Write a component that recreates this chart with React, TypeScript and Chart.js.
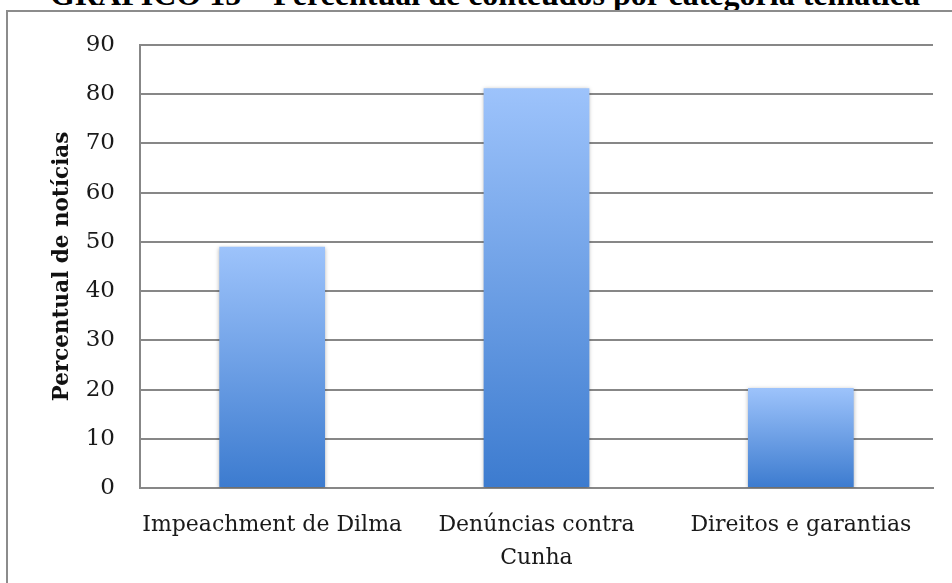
import React, { useEffect, useRef } from "react";
import { Chart, registerables } from "chart.js";

Chart.register(...registerables);

const chartTitle = "GRÁFICO 15 – Percentual de conteúdos por categoria temática";
const yAxisTitle = "Percentual de notícias";
const categories: (string | string[])[] = [
  "Impeachment de Dilma",
  ["Denúncias contra", "Cunha"],
  "Direitos e garantias",
];
const percentValues = [49, 81.2, 20.3];
const yMin = 0;
const yMax = 90;
const yStep = 10;

const GRID = "#878787";
const FONT = "'DejaVu Serif', serif";

const barShadow = {
  id: "barShadow",
  beforeDatasetsDraw(chart: any) {
    const c = chart.ctx;
    c.save();
    c.shadowColor = "rgba(0,0,0,0.3)";
    c.shadowBlur = 4;
    c.shadowOffsetX = 0;
    c.shadowOffsetY = 1;
  },
  afterDatasetsDraw(chart: any) {
    chart.ctx.restore();
  },
};

export default function App() {
  const ref = useRef<HTMLCanvasElement | null>(null);

  useEffect(() => {
    if (!ref.current) return;
    const chart = new Chart(ref.current, {
      type: "bar",
      data: {
        labels: categories as any,
        datasets: [
          {
            data: percentValues,
            backgroundColor: (ctx: any) => {
              const ch = ctx.chart;
              const { chartArea, scales } = ch;
              if (!chartArea || !scales.y || ctx.type !== "data") return "#6a9ee6";
              const v = ctx.raw as number;
              const top = scales.y.getPixelForValue(v);
              const bottom = scales.y.getPixelForValue(0);
              const g = ch.ctx.createLinearGradient(0, top, 0, bottom);
              g.addColorStop(0, "#9dc3fb");
              g.addColorStop(1, "#3c7bcf");
              return g;
            },
            borderWidth: 0,
            categoryPercentage: 1,
            barPercentage: 0.4,
          },
        ],
      },
      options: {
        responsive: false,
        animation: false,
        layout: { padding: { left: 0, top: 45, right: 19, bottom: 0 } },
        plugins: {
          legend: { display: false },
          tooltip: { enabled: false },
        },
        scales: {
          x: {
            grid: { display: false, drawTicks: false },
            border: { display: true, color: GRID, width: 2 },
            ticks: {
              color: "#1a1a1a",
              font: { family: FONT, size: 22, lineHeight: 1.5 },
              padding: 21,
              maxRotation: 0,
              autoSkip: false,
            },
            afterFit: (s: any) => {
              s.height = 95;
            },
          },
          y: {
            min: yMin,
            max: yMax,
            ticks: {
              stepSize: yStep,
              color: "#1a1a1a",
              font: { family: FONT, size: 23 },
              padding: 25,
            },
            grid: { color: GRID, lineWidth: 2, drawTicks: false },
            border: { display: true, color: GRID, width: 2 },
            title: {
              display: true,
              text: yAxisTitle,
              color: "#111",
              font: { family: FONT, size: 21.5, weight: "bold" },
              padding: { top: 50, bottom: 0 },
            },
            afterFit: (s: any) => {
              s.width = 140;
            },
          },
        },
      },
      plugins: [barShadow],
    });
    return () => chart.destroy();
  }, []);

  return (
    <div
      style={{
        position: "fixed",
        left: 0,
        top: 0,
        width: 952,
        height: 583,
        overflow: "hidden",
        background: "#fff",
      }}
    >
      <div
        style={{
          position: "absolute",
          left: 0,
          top: -22,
          width: 970,
          textAlign: "center",
          fontFamily: "'Liberation Serif', 'Times New Roman', serif",
          fontWeight: "bold",
          fontSize: 32,
          lineHeight: "32px",
          whiteSpace: "nowrap",
          color: "#000",
        }}
      >
        {chartTitle}
      </div>
      <div
        style={{
          position: "absolute",
          left: 6,
          top: 10,
          width: 1000,
          height: 700,
          border: "2px solid #8c8c8c",
          boxSizing: "border-box",
        }}
      />
      <canvas
        ref={ref}
        width={952}
        height={583}
        style={{ position: "absolute", left: 0, top: 0, width: 952, height: 583 }}
      />
    </div>
  );
}
